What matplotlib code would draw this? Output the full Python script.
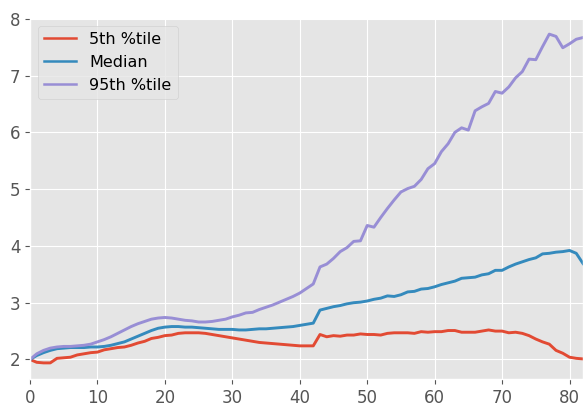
import matplotlib
matplotlib.use("Agg")
import matplotlib.pyplot as plt
import numpy as np

plt.style.use("ggplot")

ages = list(range(0, 83))

p5 = [2.00, 1.95, 1.94, 1.94, 2.02, 2.03, 2.04, 2.08, 2.10, 2.12,
      2.13, 2.17, 2.19, 2.21, 2.22, 2.25, 2.29, 2.32, 2.37, 2.39,
      2.42, 2.43, 2.46, 2.47, 2.47, 2.47, 2.46, 2.44, 2.42, 2.40,
      2.38, 2.36, 2.34, 2.32, 2.30, 2.29, 2.28, 2.27, 2.26, 2.25,
      2.24, 2.24, 2.24, 2.44, 2.40, 2.42, 2.41, 2.43, 2.43, 2.45,
      2.44, 2.44, 2.43, 2.46, 2.47, 2.47, 2.47, 2.46, 2.49, 2.48,
      2.49, 2.49, 2.51, 2.51, 2.48, 2.48, 2.48, 2.50, 2.52, 2.50,
      2.50, 2.47, 2.48, 2.46, 2.42, 2.36, 2.31, 2.27, 2.16, 2.11,
      2.04, 2.02, 2.01]

median = [2.00, 2.07, 2.12, 2.16, 2.19, 2.20, 2.21, 2.21, 2.21, 2.22,
          2.22, 2.23, 2.25, 2.28, 2.31, 2.36, 2.41, 2.46, 2.51, 2.55,
          2.57, 2.58, 2.58, 2.57, 2.57, 2.56, 2.55, 2.54, 2.53, 2.53,
          2.53, 2.52, 2.52, 2.53, 2.54, 2.54, 2.55, 2.56, 2.57, 2.58,
          2.60, 2.62, 2.64, 2.87, 2.90, 2.93, 2.95, 2.98, 3.00, 3.01,
          3.03, 3.06, 3.08, 3.12, 3.11, 3.14, 3.19, 3.20, 3.24, 3.25,
          3.28, 3.32, 3.35, 3.38, 3.43, 3.44, 3.45, 3.49, 3.51, 3.57,
          3.57, 3.63, 3.68, 3.72, 3.76, 3.79, 3.86, 3.87, 3.89, 3.90,
          3.92, 3.87, 3.69]

p95 = [2.00, 2.10, 2.16, 2.20, 2.22, 2.23, 2.23, 2.24, 2.25, 2.27,
       2.31, 2.35, 2.40, 2.46, 2.52, 2.58, 2.63, 2.67, 2.71, 2.73,
       2.74, 2.73, 2.71, 2.69, 2.68, 2.66, 2.66, 2.67, 2.69, 2.71,
       2.75, 2.78, 2.82, 2.83, 2.88, 2.92, 2.96, 3.01, 3.06, 3.11,
       3.17, 3.25, 3.33, 3.63, 3.68, 3.78, 3.90, 3.97, 4.08, 4.09,
       4.36, 4.33, 4.50, 4.66, 4.81, 4.95, 5.01, 5.05, 5.17, 5.36,
       5.45, 5.66, 5.80, 6.00, 6.08, 6.04, 6.38, 6.45, 6.51, 6.72,
       6.69, 6.80, 6.96, 7.07, 7.29, 7.28, 7.51, 7.73, 7.69, 7.49,
       7.56, 7.64, 7.67]

fig = plt.figure(figsize=(5.83, 4.07), dpi=100)
ax = fig.add_axes([0.0515, 0.068, 0.9485, 0.8885])

ax.plot(ages, p5, label="5th %tile", lw=2.1)
ax.plot(ages, median, label="Median", lw=2.1)
ax.plot(ages, p95, label="95th %tile", lw=2.1)

ax.set_xlim(0, 82)
leg = ax.legend(loc="upper left", fontsize=11.5)
for line in leg.get_lines():
    line.set_linewidth(1.8)
ax.tick_params(labelsize=12)

fig.savefig("out.png", dpi=100)
